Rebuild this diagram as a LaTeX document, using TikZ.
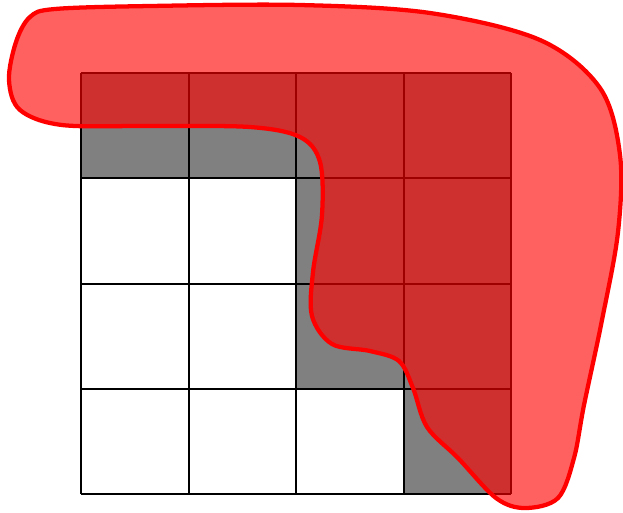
\documentclass[tikz,border=0pt]{standalone}
\begin{document}
\begin{tikzpicture}[x=0.75pt,y=-0.75pt,
  grayfill/.style={fill={rgb,255:red,128;green,128;blue,128}},
  gridline/.style={line width=1.5pt,black},
  blob/.style={fill=red,fill opacity=0.62,draw=red,draw opacity=1,line width=3.2pt}]
\useasboundingbox (0,0) rectangle (623,512);
\def\cw{107.5}
\def\ch{105.25}
% gray cells
\foreach \c/\r in {0/0,1/0,2/0,3/0,2/1,3/1,2/2,3/2,3/3}{
  \fill[grayfill] ({81+\c*\cw},{73+\r*\ch}) rectangle ++(\cw,\ch);
}
% grid
\foreach \i in {0,...,4}{
  \draw[gridline] ({81+\i*\cw},73) -- ({81+\i*\cw},494);
  \draw[gridline] (81,{73+\i*\ch}) -- (511,{73+\i*\ch});
}
% blob
\draw[blob] plot[smooth cycle,tension=0.55] coordinates {
 (55,9) (150,6) (300,5) (430,13) (540,40) (600,88) (620,155) (618,232)
 (602,320) (584,405) (574,458) (558,498) (525,508) (496,498) (458,458)
 (427,427) (413,388) (399,361) (370,351) (332,344) (312,316) (313,272)
 (322,215) (320,162) (300,137) (250,127) (150,126) (62,125) (20,110)
 (9,80) (16,42) (30,17)};
\end{tikzpicture}
\end{document}
